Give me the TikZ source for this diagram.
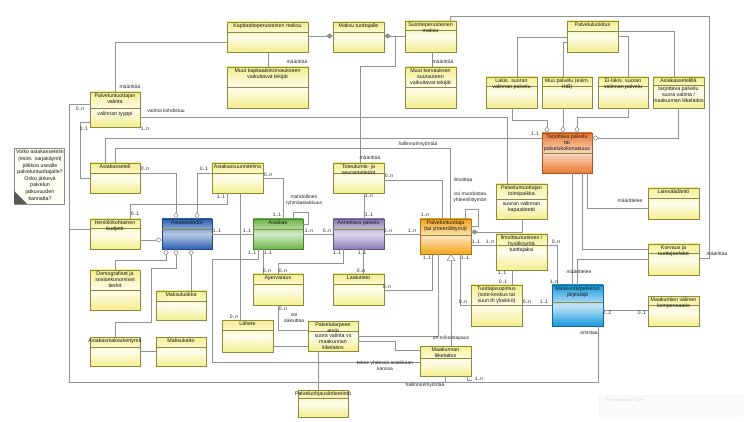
\documentclass[tikz,border=0pt]{standalone}
\usepackage{fontspec}
\setmainfont{Liberation Sans}
\usetikzlibrary{arrows.meta,calc}
\definecolor{ylw}{HTML}{F5EE8E}
\definecolor{bdcol}{HTML}{8C8A3C}
\definecolor{lncol}{HTML}{939393}
\definecolor{blu}{HTML}{2E62B5}
\definecolor{grn}{HTML}{6CB548}
\definecolor{pur}{HTML}{8C7AB8}
\definecolor{gld}{HTML}{F2A51A}
\definecolor{org}{HTML}{EC7A32}
\definecolor{cyn}{HTML}{1598DC}
\newcommand\fs{\fontsize{5.3}{6}\selectfont}
\newcommand\fl{\fontsize{5}{5.8}\selectfont}
\tikzset{
  ln/.style={draw=lncol, line width=0.6pt},
  sep/.style={draw=bdcol, line width=0.5pt},
  ubox/.style={draw=bdcol, line width=0.7pt, rectangle, inner sep=0pt, outer sep=0pt, top color=ylw, bottom color=ylw, middle color=ylw!15!white},
  blbox/.style={ubox, draw=blu!70!black, top color=blu, bottom color=blu, middle color=blu!35!white},
  grbox/.style={ubox, draw=grn!70!black, top color=grn, bottom color=grn, middle color=grn!30!white},
  pubox/.style={ubox, draw=pur!70!black, top color=pur, bottom color=pur, middle color=pur!30!white},
  gdbox/.style={ubox, draw=gld!70!black, top color=gld, bottom color=gld, middle color=gld!30!white},
  orbox/.style={ubox, draw=org!70!black, top color=org, bottom color=org, middle color=org!30!white},
  cybox/.style={ubox, draw=cyn!70!black, top color=cyn, bottom color=cyn, middle color=cyn!25!white},
  notebox/.style={draw=black!45, line width=0.6pt, fill=white!95!yellow, inner sep=0pt},
  txt/.style={font=\fs, align=center, inner sep=0.3pt, text=black!90},
  lbl/.style={font=\fl, align=center, inner sep=0.3pt, text=black!85},
  odia/.style={-{Diamond[open,length=7pt,width=5pt,fill=white]}},
  fdia/.style={-{Diamond[length=7pt,width=5pt]}},
  gen/.style={-{Triangle[open,length=7pt,width=9pt,fill=white]}},
}
\newcommand\ubx[8][ubox]{%
  \node[#1, minimum width=#5pt-#3pt, minimum height=#6pt-#4pt, anchor=north west] (#2) at (#3,#4) {};
  \draw[sep] (#3,#4+#7) -- (#5,#4+#7);
  \node[txt, anchor=north] (#2-h) at ($(#2.north)+(0,0.8)$) {#8};
}
\newcommand\bdy[3]{\node[txt, anchor=north] (#1-b) at ($(#1.north)+(0,#2)$) {#3};}
\newcounter{lc}
\newcommand\lb[3]{\stepcounter{lc}\node[lbl] (lab\arabic{lc}) at (#1,#2) {#3};}
\begin{document}
\begin{tikzpicture}[x=1pt,y=-1pt]
\useasboundingbox (0,0) rectangle (750,422);
\fill[white] (0,0) rectangle (750,422);

% ---------- boxes ----------
\ubx{valinta}{90}{92}{140}{127}{16}{Palveluntuottajan\\valinta}
\bdy{valinta}{19}{valinnan tyyppi}
\ubx{kapit}{227}{22}{308}{52}{10}{Kapitaatioperusteinen maksu}
\ubx{maksu}{333}{22}{384}{52}{10}{Maksu tuottajalle}
\ubx{suorite}{405}{21}{456}{52}{9}{Suoriteperusteinen\\maksu}
\ubx{muutkap}{227}{67}{308}{108}{20}{Muut kapitaatiokorvaukseen\\vaikuttavat tekijät}
\ubx{muutkor}{405}{67}{456}{108}{20}{Muut korvauksen\\suuruuteen\\vaikuttavat tekijät}
\ubx{luokitus}{567}{21}{618}{52}{10}{Palveluluokitus}
\ubx{lakis}{486}{77}{537}{108}{9}{Lakis. suoran\\valinnan palvelu}
\ubx{muu}{542}{77}{592}{108}{9}{Muu palvelu (esim.\\HtB)}
\ubx{eilakis}{598}{77}{648}{108}{9}{Ei-lakis. suoran\\valinnan palvelu}
\ubx{aset}{653}{77}{704}{108}{8}{Asiakassetelillä}
\bdy{aset}{9}{tarjottava palvelu\\suora valinta /\\maakunnan liikelaitos}
\ubx[orbox]{tarj}{542}{133}{592}{173}{20}{Tarjottava palvelu\\tai\\palvelukokonaisuus}
\ubx{aseteli}{90}{163}{140}{193}{10}{Asiakasseteli}
\ubx{suunn}{212}{163}{263}{193}{10}{Asiakassuunnitelma}
\ubx{toteut}{333}{163}{384}{193}{10}{Toteutumis- ja\\seurantatiedot}
\ubx{budjetti}{90}{219}{140}{249}{9}{Henkilökohtainen\\budjetti}
\ubx[blbox]{asiakastiedot}{162}{219}{212}{249}{10}{Asiakastiedot}
\ubx[grbox]{asiakas}{253}{219}{303}{249}{10}{Asiakas}
\ubx[pubox]{annettava}{333}{219}{384}{249}{10}{Annettava palvelu}
\ubx[gdbox]{ptuottaja}{420}{219}{471}{254}{16}{Palveluntuottaja\\(tai yhteenliittymä)}
\ubx{toimipaikka}{496}{184}{547}{219}{15}{Palveluntuottajan\\toimipaikka}
\bdy{toimipaikka}{17}{suoran valinnan\\kapasiteetti}
\ubx{lainsaad}{648}{188}{699}{219}{10}{Lainsäädäntö}
\ubx{ilmoitt}{496}{234}{547}{270}{11}{Ilmoittautuminen /\\hyväksyntä\\tuottajaksi}
\ubx{korvaus}{648}{244}{699}{275}{9}{Korvaus ja\\tuottajaehdot}
\ubx{demog}{90}{270}{140}{310}{20}{Demografiset ja\\sosioekonomiset\\tiedot}
\ubx{maksuluokka}{156}{291}{206}{320}{10}{Maksuluokka}
\ubx{kertyma}{90}{337}{140}{366}{10}{Asiakasmaksukertymä}
\ubx{maksukatto}{156}{337}{206}{366}{10}{Maksukatto}
\ubx{ajanvaraus}{253}{274}{303}{305}{10}{Ajanvaraus}
\ubx{laatutieto}{333}{274}{384}{305}{10}{Laatutieto}
\ubx{lahete}{222}{320}{273}{352}{10}{Lähete}
\ubx{arvio}{308}{321}{358}{351}{10}{Palvelutarpeen\\arvio}
\bdy{arvio}{12}{suora valinta vs\\maakunnan\\liikelaitos}
\ubx{kriteeristo}{298}{390}{348}{417}{8}{Palveluohjauskriteeristö}
\ubx{sopimus}{471}{285}{522}{326}{20}{Tuottajasopimus\\(sote-keskus tai\\suun th yksikkö)}
\ubx[cybox]{maakunta}{552}{285}{603}{326}{17}{Maakunta/palvelun\\järjestäjä}
\ubx{kompens}{648}{296}{699}{326}{9}{Maakuntien välinen\\kompensaatio}
\ubx{liikelaitos}{420}{346}{471}{376}{12}{Maakunnan\\liikelaitos}

% note
\node[notebox, minimum width=50pt, minimum height=56pt, anchor=north west] (note) at (14,148) {};
\fill[black!65] (14,191) -- (27,204) -- (14,204) -- cycle;
\node[txt, anchor=north, font=\fontsize{5.3}{6.6}\selectfont] (notetxt) at (40,149.5) {Voiko asiakassetelin\\(esim. sarjakäynti)\\pilkkoa usealle\\palveluntuottajalle?\\Onko järkevä\\palvelun\\jatkuvuuden\\kannalta?};

% faint toolbar
\node[draw=black!7, fill=black!2, rounded corners=2pt, minimum width=144pt, minimum height=21pt, anchor=north west, inner sep=0pt] (toolbar) at (599,395) {};
\node[font=\fontsize{4.5}{5}\selectfont, text=black!15, anchor=west] (tooltxt) at (603,400) {Presentation Tools};

% ---------- connectors ----------
\draw[ln] (valinta.west |- 0,104) -- (69,104) -- (69,382) -- (598,382) -- (598,0 |- maakunta.south);
\draw[ln] (budjetti.west |- 0,229) -- (69,229);
\draw[ln] (115,0 |- valinta.north) -- (115,42) -- (kapit.west |- 0,42);
\draw[ln,fdia] (kapit.east |- 0,36) -- (maksu.west |- 0,36);
\draw[ln] (268,0 |- kapit.south) -- (268,0 |- muutkap.north);
\draw[ln,fdia] (suorite.west |- 0,36) -- (maksu.east |- 0,36);
\draw[ln] (360,0 |- toteut.north) -- (360,66) -- (395,66) -- (395,36);
\draw[ln] (432,0 |- suorite.south) -- (432,0 |- muutkor.north);
\draw[ln] (korvaus.east |- 0,258) -- (709,258) -- (709,16) -- (450,16) -- (450,0 |- suorite.north);
\draw[ln] (luokitus.west |- 0,37) -- (517,37) -- (517,0 |- lakis.north);
\draw[ln] (luokitus.west |- 0,42) -- (563,42) -- (563,0 |- muu.north);
\draw[ln] (luokitus.east |- 0,36) -- (628,36) -- (628,0 |- eilakis.north);
\draw[ln] (luokitus.east |- 0,31) -- (674,31) -- (674,0 |- aset.north);
\draw[ln,odia] (512,0 |- lakis.south) -- (512,120) -- (547,120) -- (547,0 |- tarj.north);
\draw[ln,odia] (563,0 |- muu.south) -- (563,0 |- tarj.north);
\draw[ln,odia] (628,0 |- eilakis.south) -- (628,117) -- (577,117) -- (577,0 |- tarj.north);
\draw[ln,odia] (678,0 |- aset.south) -- (678,138) -- (tarj.east |- 0,138);
\draw[ln] (aseteli.west |- 0,178) -- (80,178) -- (80,122) -- (valinta.west |- 0,122);
\draw[ln] (valinta.east |- 0,117) -- (507,117) -- (507,0 |- toimipaikka.north);
\draw[ln] (105,0 |- aseteli.north) -- (105,138) -- (tarj.west |- 0,138);
\draw[ln] (115,0 |- aseteli.north) -- (115,148) -- (450,148) -- (450,0 |- ptuottaja.north);
\draw[ln] (toteut.east |- 0,180) -- (442,180) -- (442,0 |- ptuottaja.north);
\draw[ln,odia] (aseteli.east |- 0,173) -- (176,173) -- (176,0 |- asiakastiedot.north);
\draw[ln,odia] (suunn.west |- 0,173) -- (197,173) -- (197,0 |- asiakastiedot.north);
\draw[ln] (227,0 |- suunn.south) -- (227,204) -- (130,204) -- (130,0 |- budjetti.north);
\draw[ln,odia] (budjetti.east |- 0,240) -- (asiakastiedot.west |- 0,240);
\draw[ln,odia] (115,0 |- demog.north) -- (115,260) -- (166,260) -- (166,0 |- asiakastiedot.south);
\draw[ln,odia] (115,0 |- kertyma.north) -- (115,322) -- (151,322) -- (151,268) -- (176,268) -- (176,0 |- asiakastiedot.south);
\draw[ln,odia] (191,0 |- maksuluokka.north) -- (191,0 |- asiakastiedot.south);
\draw[ln] (kertyma.east |- 0,351) -- (maksukatto.west |- 0,351);
\draw[ln] (asiakastiedot.east |- 0,234) -- (asiakas.west |- 0,234);
\draw[ln] (suunn.east |- 0,178) -- (283,178) -- (283,0 |- asiakas.north);
\draw[ln] (293,0 |- asiakas.north) -- (293,212) -- (308,212) -- (308,224) -- (asiakas.east |- 0,224);
\draw[ln] (asiakas.east |- 0,234) -- (annettava.west |- 0,234);
\draw[ln] (364,0 |- toteut.south) -- (364,0 |- annettava.north);
\draw[ln] (annettava.east |- 0,234) -- (ptuottaja.west |- 0,234);
\draw[ln] (263,0 |- asiakas.south) -- (263,0 |- ajanvaraus.north);
\draw[ln] (343,0 |- annettava.south) -- (343,263) -- (278,263) -- (278,0 |- ajanvaraus.north);
\draw[ln] (363,0 |- annettava.south) -- (363,0 |- laatutieto.north);
\draw[ln] (258,0 |- asiakas.south) -- (258,259) -- (212,259) -- (212,362) -- (liikelaitos.west |- 0,362);
\draw[ln] (240,0 |- suunn.south) -- (240,0 |- lahete.north);
\draw[ln] (lahete.east |- 0,346) -- (arvio.west |- 0,346);
\draw[ln] (278,0 |- ajanvaraus.south) -- (278,330) -- (arvio.west |- 0,330);
\draw[ln] (318,0 |- arvio.south) -- (318,0 |- kriteeristo.north);
\draw[ln] (arvio.east |- 0,341) -- (395,341) -- (395,350) -- (liikelaitos.west |- 0,350);
\draw[ln] (arvio.east |- 0,336) -- (438,336) -- (438,0 |- ptuottaja.south);
\draw[ln] (laatutieto.east |- 0,290) -- (432,290) -- (432,0 |- ptuottaja.south);
\draw[ln,gen] (451,0 |- liikelaitos.north) -- (451,0 |- ptuottaja.south);
\draw[ln] (460,0 |- ptuottaja.south) -- (460,305) -- (sopimus.west |- 0,305);
\draw[ln] (sopimus.east |- 0,305) -- (maakunta.west |- 0,305);
\draw[ln] (512,0 |- ilmoitt.south) -- (512,0 |- sopimus.north);
\draw[ln] (ptuottaja.east |- 0,245) -- (ilmoitt.west |- 0,245);
\draw[ln] (465,0 |- ptuottaja.north) -- (465,209) -- (478,209) -- (478,226) -- (ptuottaja.east |- 0,226);
\draw[ln,fdia] (522,0 |- toimipaikka.south) -- (522,232) -- (ptuottaja.east |- 0,232);
\draw[ln] (ilmoitt.east |- 0,245) -- (557,245) -- (557,0 |- maakunta.north);
\draw[ln] (572,0 |- tarj.south) -- (572,0 |- maakunta.north);
\draw[ln] (587,0 |- tarj.south) -- (587,208) -- (lainsaad.west |- 0,208);
\draw[ln] (582,0 |- tarj.south) -- (582,249) -- (korvaus.west |- 0,249);
\draw[ln] (korvaus.west |- 0,259) -- (577,259) -- (577,0 |- maakunta.north);
\draw[ln] (maakunta.east |- 0,310) -- (kompens.west |- 0,310);
\draw[ln] (445,0 |- liikelaitos.south) -- (445,382);
\draw[ln] (467,0 |- liikelaitos.south) -- (467,380) -- (472,380);

% ---------- labels ----------
\lb{80}{109}{0..n}
\lb{130}{87}{määrittää}
\lb{297}{62}{määrittää}
\lb{370}{158}{määrittää}
\lb{443}{62}{määrittää}
\lb{717}{254}{määrittää}
\lb{84}{129}{0..1}
\lb{145}{129}{1..n}
\lb{166}{111}{valinta kohdistuu}
\lb{535}{134}{1..1}
\lb{418}{144}{hallinnoi/myöntää}
\lb{463}{180}{ilmoittaa}
\lb{389}{176}{0..n}
\lb{425}{215}{1..n}
\lb{145}{169}{0..n}
\lb{204}{169}{0..1}
\lb{221}{197}{1..1}
\lb{135}{214}{0..1}
\lb{217}{231}{1..1}
\lb{247}{231}{1..1}
\lb{268}{175}{0..n}
\lb{277}{215}{1..1}
\lb{304}{200}{mahdollinen\\ryhmäasiakkuus}
\lb{309}{231}{1..n}
\lb{327}{231}{0..n}
\lb{369}{196}{1..n}
\lb{369}{215}{1..1}
\lb{388}{231}{0..n}
\lb{412}{231}{1..n}
\lb{252}{253}{1..1}
\lb{268}{253}{1..1}
\lb{267}{271}{0..n}
\lb{283}{271}{0..n}
\lb{337}{253}{1..1}
\lb{362}{253}{1..1}
\lb{361}{271}{0..n}
\lb{234}{317}{0..n}
\lb{283}{309}{0..n}
\lb{294}{318}{voi\\oikeuttaa}
\lb{387}{287}{0..n}
\lb{427}{258}{1..1}
\lb{465}{258}{1..1}
\lb{463}{302}{0..n}
\lb{527}{302}{0..n}
\lb{544}{302}{1..1}
\lb{502}{273}{1..1}
\lb{503}{282}{0..1}
\lb{476}{242}{1..1}
\lb{490}{242}{1..n}
\lb{470}{197}{voi muodostaa\\yhteenliittymän}
\lb{556}{242}{0..n}
\lb{554}{282}{1..n}
\lb{630}{201}{määrittelee}
\lb{579}{272}{määrittelee}
\lb{607}{313}{2..2}
\lb{642}{313}{0..1}
\lb{589}{333}{omistaa}
\lb{451}{338}{on erikoistapaus}
\lb{385}{366}{tekee yhdessä asiakkaan\\kanssa}
\lb{425}{385}{hallinnoi/myöntää}
\lb{479}{379}{1..n}
\end{tikzpicture}
\end{document}
